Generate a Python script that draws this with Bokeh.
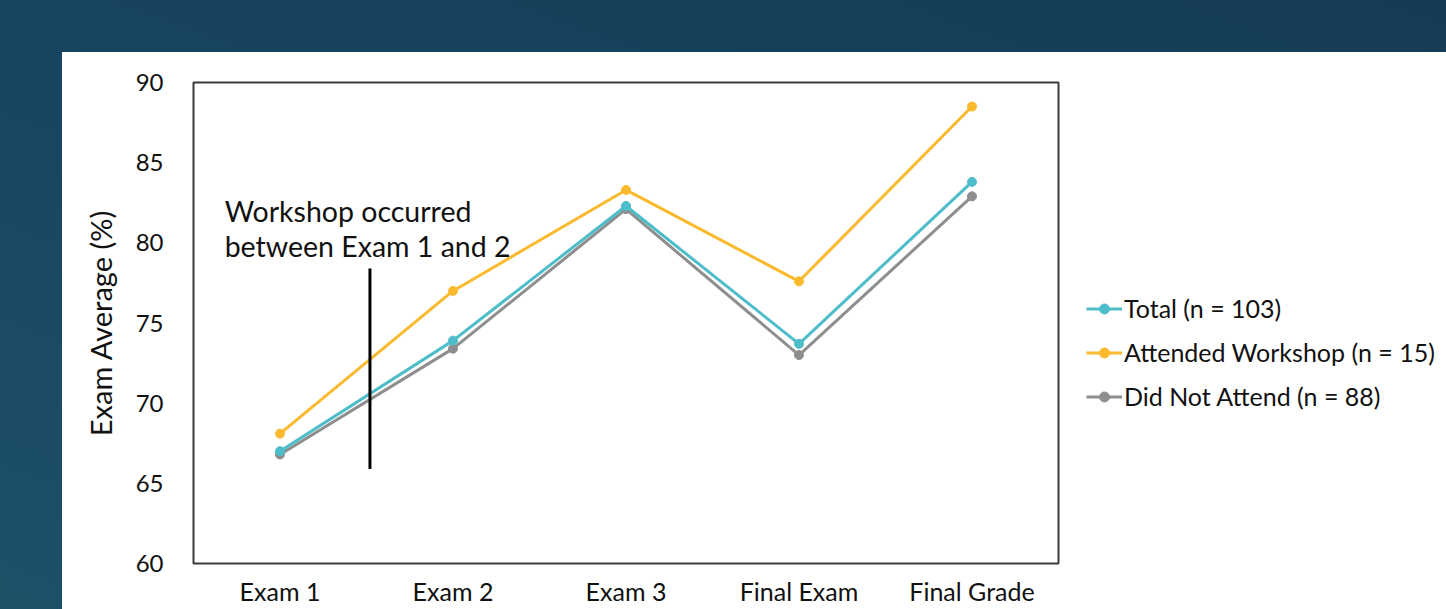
from bokeh.plotting import figure
from bokeh.models import Range1d, FixedTicker, Legend, LegendItem, Spacer
from bokeh.layouts import row, column
from bokeh.embed import file_html
from bokeh.resources import INLINE
from bokeh.core.properties import value

categories = ["Exam 1", "Exam 2", "Exam 3", "Final Exam", "Final Grade"]
total = [67.0, 73.9, 82.3, 73.7, 83.8]
attended = [68.1, 77.0, 83.3, 77.6, 88.5]
not_attended = [66.8, 73.4, 82.1, 73.0, 82.9]
y_ticks = [60, 65, 70, 75, 80, 85, 90]
annotation_lines = ["Workshop occurred", "between Exam 1 and 2"]
workshop_line_y = [65.9, 78.4]

FONT = "Lato"
TXT = "#111111"
x = [i + 0.5 for i in range(len(categories))]

p = figure(frame_width=865, frame_height=481, output_backend="svg", toolbar_location=None,
           x_range=Range1d(0, len(categories)), y_range=Range1d(60, 90),
           min_border_left=131, min_border_right=0, min_border_top=30, min_border_bottom=0)
p.background_fill_color = "white"
p.border_fill_color = "white"
p.outline_line_color = "#3a3a3a"
p.outline_line_width = 2
p.xgrid.visible = False
p.ygrid.visible = False

p.xaxis.ticker = FixedTicker(ticks=x)
p.xaxis.major_label_overrides = {xi: c for xi, c in zip(x, categories)}
p.yaxis.ticker = FixedTicker(ticks=y_ticks)
for ax in (p.xaxis, p.yaxis):
    ax.axis_line_color = None
    ax.major_tick_line_color = None
    ax.minor_tick_line_color = None
    ax.major_tick_out = 0
    ax.major_tick_in = 0
    ax.major_label_text_font = FONT
    ax.major_label_text_font_size = "24px"
    ax.major_label_text_color = TXT
p.xaxis.major_label_text_font_size = "25px"
p.xaxis.major_label_standoff = 12
p.yaxis.major_label_standoff = 30
p.yaxis.axis_label = "Exam Average (%)"
p.yaxis.axis_label_text_font = FONT
p.yaxis.axis_label_text_font_style = "normal"
p.yaxis.axis_label_text_font_size = "29px"
p.yaxis.axis_label_text_color = TXT
p.yaxis.axis_label_standoff = 15

series = [("Total (n = 103)", total, "#4dbdca"),
          ("Attended Workshop (n = 15)", attended, "#fbb92d"),
          ("Did Not Attend (n = 88)", not_attended, "#8e8e8e")]
items = []
for name, vals, col in reversed(series):
    l = p.line(x, vals, line_color=col, line_width=3)
    s = p.scatter(x, vals, size=9, fill_color=col, line_color=col)
    items.append((name, [l, s]))
items = list(reversed(items))

# workshop marker between Exam 1 and Exam 2
xw = x[0] + 0.52
p.segment(x0=[xw], x1=[xw], y0=[workshop_line_y[0]], y1=[workshop_line_y[1]],
          line_color="black", line_width=3)
p.text(x=[0.18, 0.18], y=[82.0, 79.8], text=annotation_lines,
       text_font=value(FONT), text_font_size="28.5px", text_color=TXT,
       text_baseline="middle", text_align="left")

legend = Legend(items=[LegendItem(label=n, renderers=r) for n, r in items],
                location=(28, 152), orientation="vertical")
legend.label_text_font = FONT
legend.label_text_font_size = "25px"
legend.label_text_color = TXT
legend.glyph_width = 36
legend.glyph_height = 25
legend.label_height = 25
legend.spacing = 14
legend.label_standoff = 2
legend.padding = 0
legend.margin = 0
legend.border_line_color = None
legend.background_fill_alpha = 0
p.add_layout(legend, "right")

bg = ("linear-gradient(#ffffff, #ffffff) 62px 52px / 1384px 557px no-repeat, "
      "linear-gradient(200deg, #133a50 0%, #174460 55%, #1e5068 100%)")
layout = row(Spacer(width=62, height=609),
             column(Spacer(width=1384, height=52), p),
             styles={"background": bg})

open("out.html", "w").write(file_html(layout, INLINE))
